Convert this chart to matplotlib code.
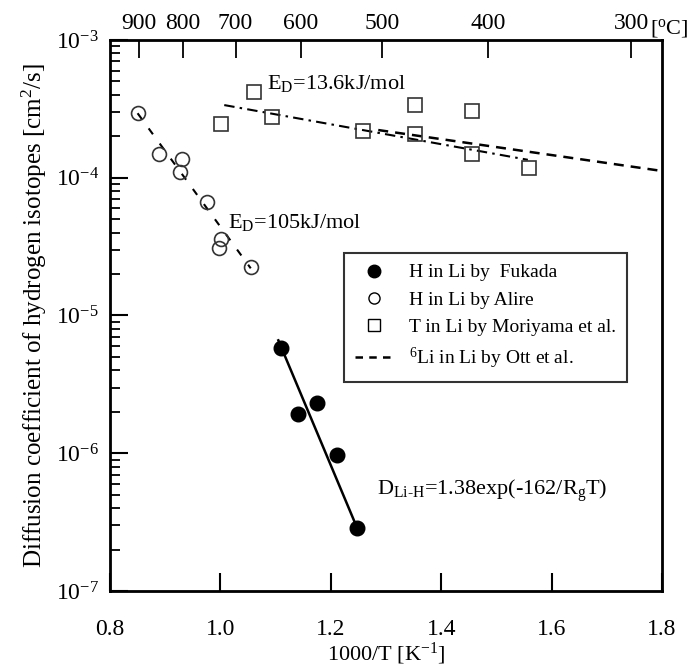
import matplotlib
matplotlib.use("Agg")
import matplotlib.pyplot as plt
from matplotlib.lines import Line2D

plt.rcParams['font.family'] = ['Liberation Serif', 'DejaVu Serif']
plt.rcParams['mathtext.fontset'] = 'custom'
plt.rcParams['mathtext.rm'] = 'Liberation Serif'
plt.rcParams['mathtext.it'] = 'Liberation Serif:italic'

# H in Li by Fukada (filled circles) and its fit
fukada_x = [1.109, 1.141, 1.175, 1.211, 1.248]
fukada_d = [5.8e-6, 1.92e-6, 2.31e-6, 9.7e-7, 2.85e-7]
fukada_fit_x = [1.105, 1.248]
fukada_fit_d = [6.6e-6, 2.85e-7]

# H in Li by Alire (open circles) and its fit
alire_x = [0.850, 0.888, 0.930, 0.927, 0.975, 1.001, 0.997, 1.055]
alire_d = [2.94e-4, 1.49e-4, 1.36e-4, 1.11e-4, 6.7e-5, 3.59e-5, 3.08e-5, 2.26e-5]
alire_fit_x = [0.850, 1.055]
alire_fit_d = [2.94e-4, 2.2e-5]

# T in Li by Moriyama et al. (open squares) and its fit
moriyama_x = [1.002, 1.060, 1.093, 1.259, 1.352, 1.352, 1.455, 1.455, 1.559]
moriyama_d = [2.45e-4, 4.17e-4, 2.77e-4, 2.18e-4, 3.37e-4, 2.08e-4, 3.05e-4, 1.49e-4, 1.18e-4]
moriyama_fit_x = [1.007, 1.557]
moriyama_fit_d = [3.37e-4, 1.35e-4]

# 6Li in Li by Ott et al. (dashed line)
ott_fit_x = [1.286, 1.8]
ott_fit_d = [2.22e-4, 1.12e-4]

celsius = [900, 800, 700, 600, 500, 400, 300]


fig = plt.figure(figsize=(6.9, 6.68), dpi=100)
ax = fig.add_axes([0.1594, 0.1153, 0.8, 0.8248])

ax.plot(alire_fit_x, alire_fit_d, color='black', lw=1.5, dashes=(3.5, 5.5))
ax.plot(moriyama_fit_x, moriyama_fit_d, color='black', lw=1.5,
        dashes=(5, 2.5, 1.2, 2.5))
ax.plot(ott_fit_x, ott_fit_d, color='black', lw=1.8, dashes=(4, 2.8))
ax.plot(fukada_fit_x, fukada_fit_d, color='black', lw=1.8)

ax.plot(alire_x, alire_d, 'o', ms=10, mfc='none', mec='#333333', mew=1.2)
ax.plot(moriyama_x, moriyama_d, 's', ms=10, mfc='none', mec='#333333', mew=1.2)
ax.plot(fukada_x, fukada_d, 'o', ms=10.5, color='black')

ax.set_yscale('log')
ax.set_xlim(0.8, 1.8)
ax.set_ylim(1e-7, 1e-3)
ax.set_xticks([0.8, 1.0, 1.2, 1.4, 1.6, 1.8])
ax.set_xticklabels(['0.8', '1.0', '1.2', '1.4', '1.6', '1.8'])
ax.tick_params(axis='x', which='both', direction='in', top=False,
               length=13, width=1.5, pad=20, labelsize=17)
ax.tick_params(axis='y', which='major', direction='in', right=False,
               length=13, width=1.5, pad=8, labelsize=17)
ax.tick_params(axis='y', which='minor', direction='in', right=False,
               length=7, width=1.3)
for s in ax.spines.values():
    s.set_linewidth(2)

ax.set_xlabel('1000/T [K$^{-1}$]', fontsize=16, labelpad=1)
ax.set_ylabel('Diffusion coefficient of hydrogen isotopes [cm$^2$/s]',
              fontsize=18, labelpad=5)

top = ax.twiny()
top.set_xlim(ax.get_xlim())
top.set_xticks([1000.0 / (c + 273.15) for c in celsius])
top.set_xticklabels([str(c) for c in celsius])
top.tick_params(axis='x', direction='in', length=13, width=1.3, pad=4,
                labelsize=17)
top.text(1.779, 1.0, '[$^{\\rm o}$C]', transform=top.get_xaxis_transform(),
         fontsize=16, ha='left', va='bottom')

ax.text(1.084, 4.39e-4, 'E$_{\\rm D}$=13.6kJ/mol', fontsize=16, va='baseline')
ax.text(1.014, 4.3e-5, 'E$_{\\rm D}$=105kJ/mol', fontsize=16, va='baseline')
ax.text(1.283, 5.0e-7, 'D$_{\\rm Li\\text{-}H}$=1.38exp(-162/R$_{\\rm g}$T)',
        fontsize=16, va='baseline')

handles = [
    Line2D([], [], ls='none', marker='o', ms=9, color='black'),
    Line2D([], [], ls='none', marker='o', ms=8, mfc='none', mec='black', mew=1),
    Line2D([], [], ls='none', marker='s', ms=9, mfc='none', mec='black', mew=1),
    Line2D([], [], color='black', lw=1.8, dashes=(3, 2.5)),
]
labels = ['H in Li by  Fukada', 'H in Li by Alire', 'T in Li by Moriyama et al.',
          '$^{6}$Li in Li by Ott et al.']
leg = ax.legend(handles, labels, loc='upper left', bbox_to_anchor=(0.424, 0.6134),
                borderaxespad=0, fontsize=14, frameon=True, fancybox=False,
                edgecolor='black', handlelength=2.0, handletextpad=0.8,
                borderpad=0.55, labelspacing=0.5)
leg.get_frame().set_linewidth(1.5)

fig.savefig('out.png', dpi=100)
